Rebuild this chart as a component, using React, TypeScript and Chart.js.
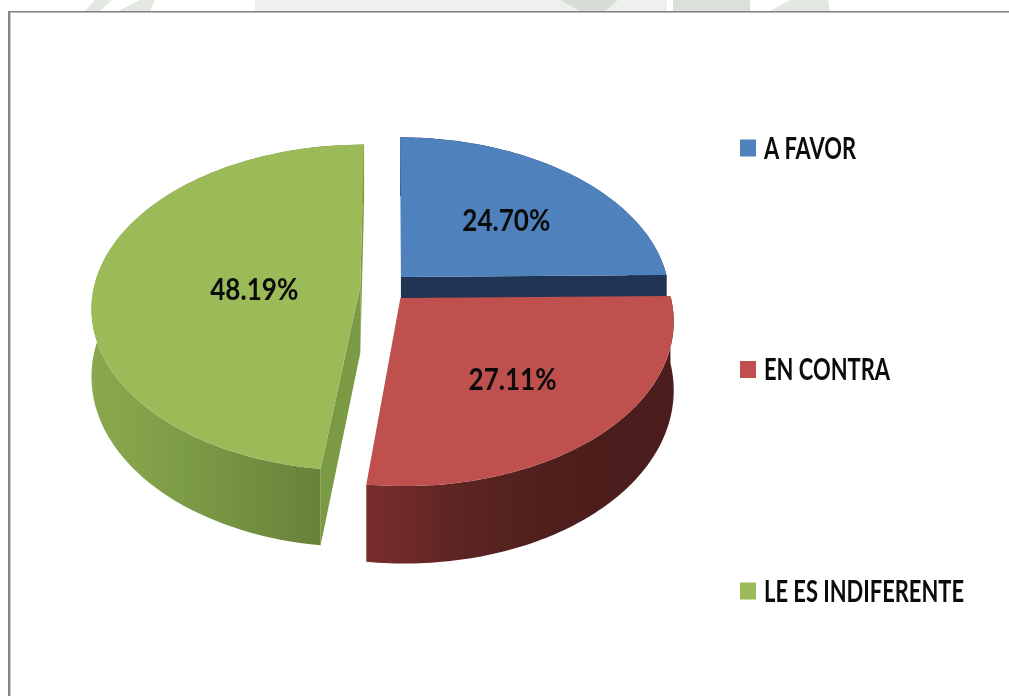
import React, { useEffect, useRef } from "react";
import { Chart, registerables } from "chart.js";
Chart.register(...registerables);

// --- data ---
const categories = ["A FAVOR", "EN CONTRA", "LE ES INDIFERENTE"];
const percentages = [24.7, 27.11, 48.19];

// --- styles ---
const topColours = ["#4f81bd", "#c0504d", "#9bbb59"];
const wallColours = [
  ["#1f3553", "#1f3553"],
  ["#792d2b", "#5a2422", "#4d1e1c", "#4a1c1b"],
  ["#8aa94e", "#7d9c46", "#6f8b3e", "#627836"],
];
const cutFaceColours = ["#1f3553", "#5a2422", "#7b9a44"];
const drawOrder = [0, 2, 1];
const labelRadius = [0.6, 0.58, 0.4];
const labelDrop = 8;
const FONT = 'Lato, "Open Sans", sans-serif';
const FONT_PX = 30;
const LEGEND_TEXT_WIDTH = 200; // width of the longest legend entry
const VALUE_TEXT_WIDTH = 88; // width of a value label

// ground plane -> screen projection of the tilted pie
const H = { a: 265.8669, b: -51.2433, c: 384.1846, d: -0.118, e: 122.9782, f: 287.2158, g: -0.0038, h: -0.1304 };
const EXPLODE = 0.0897;
const DEPTH = 66.65;
const STEPS = 90;

function project(u: number, f: number) {
  const w = 1 + H.g * u + H.h * f;
  return { x: (H.a * u + H.b * f + H.c) / w, y: (H.d * u + H.e * f + H.f) / w, depth: DEPTH / w };
}

function pathOf(ctx: CanvasRenderingContext2D, pts: { x: number; y: number }[]) {
  ctx.beginPath();
  pts.forEach((p, i) => (i ? ctx.lineTo(p.x, p.y) : ctx.moveTo(p.x, p.y)));
  ctx.closePath();
}

function signedArea(pts: { x: number; y: number }[]) {
  let s = 0;
  pts.forEach((p, i) => {
    const q = pts[(i + 1) % pts.length];
    s += p.x * q.y - q.x * p.y;
  });
  return s;
}

const down = (p: { x: number; y: number; depth: number }) => ({ x: p.x, y: p.y + p.depth });

function squeezedText(ctx: CanvasRenderingContext2D, text: string, x: number, y: number, sx: number) {
  ctx.save();
  ctx.translate(x, y);
  ctx.scale(sx, 1);
  ctx.fillText(text, 0, 0);
  ctx.restore();
}

const pie3d = {
  id: "pie3d",
  beforeDraw(chart: any) {
    const ctx: CanvasRenderingContext2D = chart.ctx;
    ctx.save();
    ctx.fillStyle = "#ffffff";
    ctx.fillRect(0, 0, 1009, 696);
    // faded page watermark above the frame
    ctx.fillStyle = "#eef0ee";
    ctx.fillRect(255, 0, 412, 11);
    ctx.fillStyle = "#dbe0da";
    ctx.fillRect(673, 0, 77, 11);
    ctx.fillStyle = "#e3e8e1";
    ctx.beginPath();
    ctx.moveTo(85, 11); ctx.lineTo(95, 0); ctx.lineTo(112, 0); ctx.lineTo(100, 11); ctx.closePath();
    ctx.moveTo(118, 11); ctx.lineTo(140, 0); ctx.lineTo(155, 0); ctx.lineTo(150, 11); ctx.closePath();
    ctx.moveTo(770, 11); ctx.lineTo(790, 0); ctx.lineTo(828, 0); ctx.lineTo(830, 11); ctx.closePath();
    ctx.fill();
    ctx.fillStyle = "#d8ddd7";
    ctx.beginPath();
    ctx.moveTo(560, 0); ctx.lineTo(580, 11); ctx.lineTo(605, 11); ctx.lineTo(618, 0); ctx.closePath();
    ctx.fill();
    // frame
    ctx.fillStyle = "#858585";
    ctx.fillRect(8, 11, 1001, 1.6);
    ctx.fillRect(8, 11, 2.4, 685);
    ctx.restore();
  },
  beforeDatasetsDraw(chart: any) {
    const ctx: CanvasRenderingContext2D = chart.ctx;
    const arcs = chart.getDatasetMeta(0).data;
    ctx.save();
    for (const i of drawOrder) {
      const el = arcs[i];
      const mid = (el.startAngle + el.endAngle) / 2;
      const ou = Math.cos(mid) * EXPLODE;
      const of = Math.sin(mid) * EXPLODE;
      const rim: any[] = [];
      for (let s = 0; s <= STEPS; s++) {
        const a = el.startAngle + ((el.endAngle - el.startAngle) * s) / STEPS;
        rim.push(project(ou + Math.cos(a), of + Math.sin(a)));
      }
      const apex = project(ou, of);
      const first = rim[0];
      const last = rim[STEPS];

      // outer wall
      const xs = rim.map((p) => p.x);
      const grad = ctx.createLinearGradient(Math.min(...xs), 0, Math.max(...xs), 0);
      wallColours[i].forEach((c, k, all) => grad.addColorStop(k / (all.length - 1), c));
      pathOf(ctx, [...rim, ...rim.slice().reverse().map(down)]);
      ctx.fillStyle = grad;
      ctx.fill();

      // cut faces that turn towards the viewer
      const startFace = [apex, first, down(first), down(apex)];
      const endFace = [apex, last, down(last), down(apex)];
      ctx.fillStyle = cutFaceColours[i];
      if (signedArea(startFace) < -200) { pathOf(ctx, startFace); ctx.fill(); }
      if (signedArea(endFace) > 200) { pathOf(ctx, endFace); ctx.fill(); }

      // top surface
      pathOf(ctx, [apex, ...rim]);
      ctx.fillStyle = el.options.backgroundColor;
      ctx.fill();
    }

    ctx.fillStyle = "#0b0b0b";
    ctx.font = `bold ${FONT_PX}px ${FONT}`;
    ctx.textBaseline = "middle";

    // value labels
    ctx.textAlign = "center";
    const texts = chart.data.datasets[0].data.map((v: number) => v.toFixed(2) + "%");
    const valueSx = VALUE_TEXT_WIDTH / ctx.measureText(texts[0]).width;
    arcs.forEach((el: any, i: number) => {
      const mid = (el.startAngle + el.endAngle) / 2;
      const r = EXPLODE + labelRadius[i];
      const p = project(Math.cos(mid) * r, Math.sin(mid) * r);
      squeezedText(ctx, texts[i], p.x, p.y + labelDrop, valueSx);
    });

    // legend spread down the right side
    ctx.textAlign = "left";
    const legendX = 740;
    const legendY = [148, 369.5, 591];
    const widest = Math.max(...chart.data.labels.map((l: string) => ctx.measureText(l).width));
    const legendSx = LEGEND_TEXT_WIDTH / widest;
    chart.data.labels.forEach((label: string, i: number) => {
      ctx.fillStyle = topColours[i];
      ctx.fillRect(legendX, legendY[i] - 8.5, 16, 17);
      ctx.fillStyle = "#0b0b0b";
      squeezedText(ctx, label, legendX + 24, legendY[i] + 1, legendSx);
    });
    ctx.restore();
    return false;
  },
};

export default function App() {
  const ref = useRef<HTMLCanvasElement>(null);
  useEffect(() => {
    const chart = new Chart(ref.current!, {
      type: "pie",
      data: {
        labels: categories,
        datasets: [{ data: percentages, backgroundColor: topColours, borderWidth: 0 }],
      },
      options: {
        animation: false,
        responsive: false,
        devicePixelRatio: 1,
        rotation: 0,
        plugins: { legend: { display: false }, tooltip: { enabled: false } },
      },
      plugins: [pie3d],
    } as any);
    return () => chart.destroy();
  }, []);
  return (
    <canvas
      ref={ref}
      width={1009}
      height={696}
      style={{ position: "fixed", left: 0, top: 0, width: 1009, height: 696, display: "block" }}
    />
  );
}
